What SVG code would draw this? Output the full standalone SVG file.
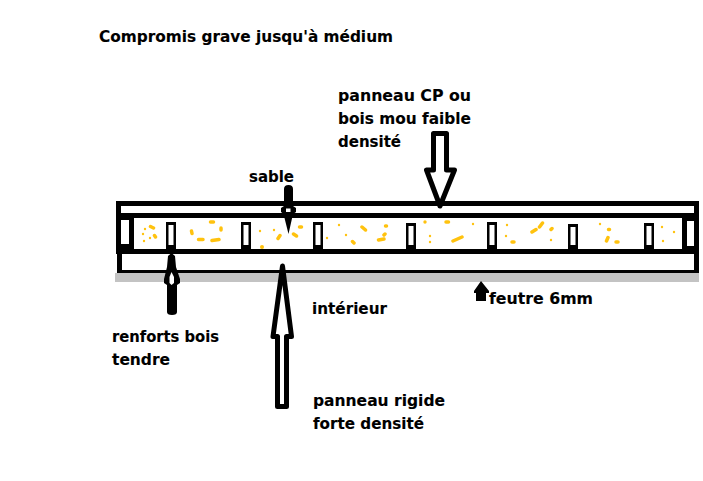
<svg xmlns="http://www.w3.org/2000/svg" width="703" height="481" viewBox="0 0 703 481">
<style>
text{font-family:"DejaVu Sans","Liberation Sans",sans-serif;font-weight:700;font-size:15.5px;fill:#000;stroke:#000;stroke-width:.12px}
.b{fill:#000}
.w{fill:#fff}
.o{fill:#fff;stroke:#000;stroke-width:5;stroke-linejoin:round}
.s{stroke:#ffc20e;stroke-width:3.500;stroke-linecap:round;fill:none}
.d{fill:#ffc20e}
</style>
<rect width="703" height="481" fill="#fff"/>
<g id="panel">
<rect x="115" y="273" width="584" height="9" fill="#c3c3c3"/>
<rect class="b" x="116" y="201" width="583" height="5"/>
<rect class="b" x="116" y="213" width="583" height="5"/>
<rect class="b" x="116" y="249" width="583" height="5"/>
<rect class="b" x="117" y="270" width="582" height="3"/>
<rect class="b" x="116" y="201" width="5" height="48"/>
<rect class="b" x="117" y="249" width="5" height="24"/>
<rect class="b" x="694" y="201" width="5" height="72"/>
<rect class="b" x="116" y="218" width="18" height="31"/><rect class="w" x="121" y="220" width="8" height="24"/>
<rect class="b" x="682" y="218" width="17" height="31"/><rect class="w" x="687" y="221" width="7" height="25"/>
</g>
<g id="ribs">
<rect class="b" x="166" y="222" width="10" height="27"/><rect class="w" x="168.500" y="225" width="5" height="20"/>
<rect class="b" x="241" y="222" width="10" height="27"/><rect class="w" x="243.500" y="225" width="5" height="20"/>
<rect class="b" x="313" y="222" width="10" height="27"/><rect class="w" x="315.500" y="225" width="5" height="20"/>
<rect class="b" x="406" y="223" width="10" height="26"/><rect class="w" x="408.500" y="226" width="5" height="19"/>
<rect class="b" x="487" y="222" width="10" height="27"/><rect class="w" x="489.500" y="225" width="5" height="20"/>
<rect class="b" x="568" y="224" width="10" height="25"/><rect class="w" x="570.500" y="227" width="5" height="18"/>
<rect class="b" x="644" y="223" width="10" height="26"/><rect class="w" x="646.500" y="226" width="5" height="19"/>
</g>
<g id="sand">
<path class="s" d="M150.500 226.500L153.500 228M154.500 235.500L155.500 237M191.500 231L192 233.500M210.500 222H213.500M221 228V230M198.500 239.500H203M212 240.500L219 239.500M278 238.500L280 235.500M293.500 234L296.500 236M299.500 227H301.500M362 227L365.500 230M385.500 226H386.500M385 234L384 235M378.500 240L384 239M352.500 241.500L354 243M446 222H448.500M453 241L462 237M532 232L536 229.500M539.500 227L542.500 223M551 229.500L552 228.500M606.500 241L608 237.500M608.500 229.500H609.500M616 242H618M512 242H514"/>
<g class="d">
<circle cx="145" cy="229" r="1.200"/><circle cx="143" cy="234" r="1.200"/><circle cx="150" cy="238" r="1.200"/><circle cx="144" cy="241" r="1.200"/><circle cx="260" cy="231" r="1.200"/><circle cx="274" cy="230" r="1.200"/><circle cx="262" cy="247" r="2"/><circle cx="339" cy="225" r="1.200"/><circle cx="346" cy="235" r="1.200"/><circle cx="327" cy="238" r="1.200"/><circle cx="425" cy="222" r="1.700"/><circle cx="473" cy="224" r="1.200"/><circle cx="430" cy="236" r="1.200"/><circle cx="430" cy="242" r="1.200"/><circle cx="507" cy="225" r="1.200"/><circle cx="506" cy="236" r="1.200"/><circle cx="551" cy="240" r="1.200"/><circle cx="600" cy="224" r="1.200"/><circle cx="662" cy="227" r="1.200"/><circle cx="674" cy="232" r="1.200"/><circle cx="663" cy="241" r="1.200"/>
</g>
</g>
<g id="connectors">
<path class="o" d="M433.500 133.500H446.500V170H454.500L440 206L426.500 170H433.500Z"/>
<path class="o" d="M277.500 406.500H286.500V336.500H291.500L282.500 266L273 336.500H277.500Z"/>
<path class="b" d="M284 189Q284 185 288.500 185Q293 185 293 189V206L296 208V212L293 214L288.500 234L283.500 214L281 212V208L284 206Z"/>
<rect class="w" x="286" y="208.500" width="4.500" height="3.500"/>
<path class="b" d="M171.500 253L175 256L176 267L180 279V283L177 285V312Q177 315 172 315Q167 315 167 312V285L164 283V279L167 267L168 256Z"/>
<path class="w" d="M171.500 272L174 277V283L171.500 285L169.500 283V277Z"/>
<path class="b" d="M481 281L489 291V293H486V301H476V293H474V291Z"/>
</g>
<g id="labels">
<text x="99" y="42" textLength="294" lengthAdjust="spacingAndGlyphs">Compromis grave jusqu'à médium</text>
<text x="338" y="101" textLength="133" lengthAdjust="spacingAndGlyphs">panneau CP ou</text>
<text x="338" y="124" textLength="133" lengthAdjust="spacingAndGlyphs">bois mou faible</text>
<text x="338" y="147" textLength="63" lengthAdjust="spacingAndGlyphs">densité</text>
<text x="249" y="182" textLength="45" lengthAdjust="spacingAndGlyphs">sable</text>
<text x="489" y="304" textLength="104" lengthAdjust="spacingAndGlyphs">feutre 6mm</text>
<text x="312" y="314" textLength="75" lengthAdjust="spacingAndGlyphs">intérieur</text>
<text x="112" y="342" textLength="107" lengthAdjust="spacingAndGlyphs">renforts bois</text>
<text x="112" y="365" textLength="58" lengthAdjust="spacingAndGlyphs">tendre</text>
<text x="313" y="406" textLength="132" lengthAdjust="spacingAndGlyphs">panneau rigide</text>
<text x="313" y="429" textLength="111" lengthAdjust="spacingAndGlyphs">forte densité</text>
</g>
</svg>
